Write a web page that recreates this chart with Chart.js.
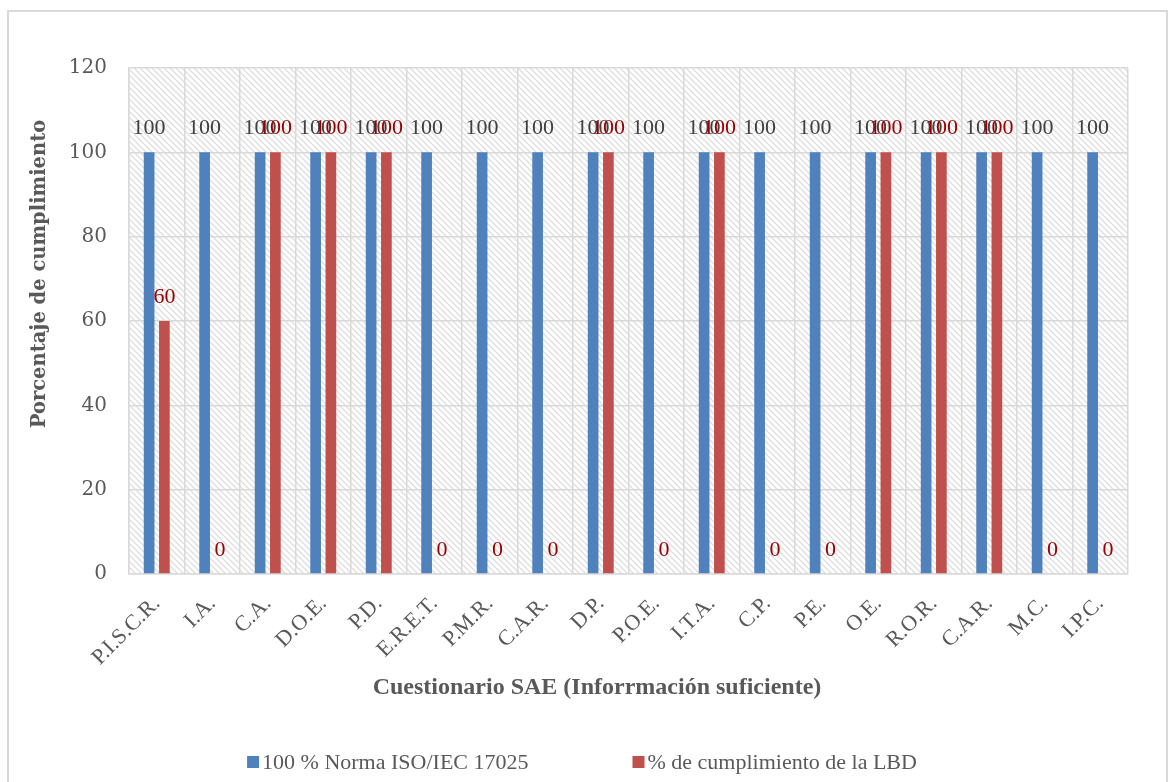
<!DOCTYPE html>
<html>
<head>
<meta charset="utf-8">
<script src="https://cdn.jsdelivr.net/npm/chart.js@4/dist/chart.umd.min.js"></script>
<style>
  html, body { margin: 0; padding: 0; background: #ffffff; }
  #wrap { width: 1168px; height: 782px; position: relative; }
</style>
</head>
<body>
<div id="wrap"><canvas id="c" width="1168" height="782"></canvas></div>
<script>
// Questionnaire items (x-axis categories)
const categories = ['P.I.S.C.R.', 'I.A.', 'C.A.', 'D.O.E.', 'P.D.', 'E.R.E.T.', 'P.M.R.', 'C.A.R.', 'D.P.',
  'P.O.E.', 'I.T.A.', 'C.P.', 'P.E.', 'O.E.', 'R.O.R.', 'C.A.R.', 'M.C.', 'I.P.C.'];

// Series values (%)
const normaISO = [100, 100, 100, 100, 100, 100, 100, 100, 100, 100, 100, 100, 100, 100, 100, 100, 100, 100];
const cumplimientoLBD = [60, 0, 100, 100, 100, 0, 0, 0, 100, 0, 100, 0, 0, 100, 100, 100, 0, 0];

// Series names
const seriesNames = ['100 % Norma ISO/IEC 17025', '% de cumplimiento de la LBD'];

// Value axis ticks
const yTicks = [0, 20, 40, 60, 80, 100, 120];

// Axis titles
const xTitle = 'Cuestionario SAE (Inforrmación suficiente)';
const yTitle = 'Porcentaje de cumplimiento';

const SERIF = '"Liberation Serif", "Times New Roman", serif';
const SERIF2 = '"DejaVu Serif", Cambria, serif';
const TEXT = '#595959';
const BAR_COLORS = ['#4f81bd', '#c0504d'];
const LABEL_COLORS = ['#404040', '#990000'];

// Diagonal hatch fill behind the plot area
function makeHatch() {
  const s = 6;
  const p = document.createElement('canvas');
  p.width = s; p.height = s;
  const g = p.getContext('2d');
  g.fillStyle = '#ffffff';
  g.fillRect(0, 0, s, s);
  g.strokeStyle = '#dedede';
  g.lineWidth = 1.3;
  g.beginPath();
  g.moveTo(-1, -1); g.lineTo(s + 1, s + 1);
  g.moveTo(-1, s - 1); g.lineTo(1, s + 1);
  g.moveTo(s - 1, -1); g.lineTo(s + 1, 1);
  g.stroke();
  return p;
}

const backdrop = {
  id: 'backdrop',
  beforeDraw(chart) {
    const { ctx, chartArea: a } = chart;
    ctx.save();
    ctx.fillStyle = '#ffffff';
    ctx.fillRect(0, 0, chart.width, chart.height);
    ctx.strokeStyle = '#d9d9d9';
    ctx.lineWidth = 2;
    ctx.strokeRect(8, 11, 1159, 800);
    ctx.fillStyle = ctx.createPattern(makeHatch(), 'repeat');
    ctx.fillRect(a.left, a.top, a.right - a.left, a.bottom - a.top);
    ctx.restore();
  }
};

// Value labels above each bar
const valueLabels = {
  id: 'valueLabels',
  afterDatasetsDraw(chart) {
    const { ctx } = chart;
    ctx.save();
    ctx.font = '22px ' + SERIF;
    ctx.textAlign = 'center';
    ctx.textBaseline = 'middle';
    chart.data.datasets.forEach((ds, i) => {
      const meta = chart.getDatasetMeta(i);
      ctx.fillStyle = LABEL_COLORS[i];
      meta.data.forEach((bar, j) => {
        ctx.fillText(String(ds.data[j]), bar.x, bar.y - 24);
      });
    });
    ctx.restore();
  }
};

// Axis titles and the series key along the bottom
const annotations = {
  id: 'annotations',
  afterDraw(chart) {
    const { ctx } = chart;
    ctx.save();
    ctx.fillStyle = TEXT;
    ctx.textAlign = 'center';
    ctx.textBaseline = 'middle';

    ctx.font = 'bold 24px ' + SERIF;
    ctx.fillText(xTitle, 597, 688);

    ctx.save();
    ctx.translate(40, 274);
    ctx.rotate(-Math.PI / 2);
    ctx.font = 'bold 19.5px ' + SERIF2;
    ctx.fillText(yTitle, 0, 0);
    ctx.restore();

    // key
    ctx.font = '22px ' + SERIF;
    ctx.textAlign = 'left';
    const box = 12, boxGap = 3, itemGap = 104, cy = 762;
    const widths = chart.data.datasets.map(d => ctx.measureText(d.label).width);
    const total = widths.reduce((s, w) => s + box + boxGap + w, 0) + itemGap * (widths.length - 1);
    let x = 582 - total / 2;
    chart.data.datasets.forEach((d, i) => {
      ctx.fillStyle = d.backgroundColor;
      ctx.fillRect(x, cy - box / 2, box, box);
      ctx.fillStyle = TEXT;
      ctx.fillText(d.label, x + box + boxGap, cy + 1);
      x += box + boxGap + widths[i] + itemGap;
    });
    ctx.restore();
  }
};

new Chart(document.getElementById('c'), {
  type: 'bar',
  data: {
    labels: categories,
    datasets: [
      { label: seriesNames[0], data: normaISO, backgroundColor: BAR_COLORS[0],
        categoryPercentage: 0.55, barPercentage: 0.70 },
      { label: seriesNames[1], data: cumplimientoLBD, backgroundColor: BAR_COLORS[1],
        categoryPercentage: 0.55, barPercentage: 0.70 }
    ]
  },
  options: {
    responsive: false,
    animation: false,
    devicePixelRatio: 1,
    layout: { padding: { top: 68, right: 40, left: 0, bottom: 88 } },
    plugins: {
      tooltip: { enabled: false },
      legend: { display: false }
    },
    scales: {
      x: {
        grid: { color: '#d9d9d9', lineWidth: 1.5, offset: true, drawTicks: false },
        border: { color: '#d9d9d9', width: 1.5 },
        ticks: {
          color: TEXT,
          font: { family: SERIF, size: 22 },
          maxRotation: 45, minRotation: 45,
          padding: 17,
          autoSkip: false
        },
        afterFit(scale) { scale.height = 120; }
      },
      y: {
        min: 0, max: 120,
        afterBuildTicks(scale) { scale.ticks = yTicks.map(v => ({ value: v })); },
        grid: { color: '#d9d9d9', lineWidth: 1.5, drawTicks: false },
        border: { color: '#d9d9d9', width: 1.5 },
        ticks: {
          color: TEXT,
          font: { family: SERIF2, size: 20 },
          padding: 22
        },
        afterFit(scale) { scale.width = 129; }
      }
    }
  },
  plugins: [backdrop, valueLabels, annotations]
});
</script>
</body>
</html>
